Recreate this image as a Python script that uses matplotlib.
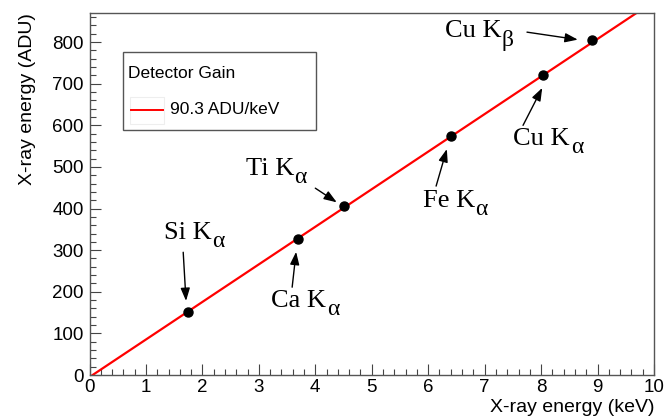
import matplotlib
matplotlib.use("Agg")
import matplotlib.pyplot as plt
import numpy as np
from matplotlib.ticker import MultipleLocator
from matplotlib.patches import Rectangle
from matplotlib.lines import Line2D

# Data
lines_names = ["Si", "Ca", "Ti", "Fe", "Cu", "Cu"]
greek = ["α", "α", "α", "α", "α", "β"]
energy_kev = [1.74, 3.69, 4.51, 6.40, 8.04, 8.90]
energy_adu = [152, 327, 405, 575, 722, 805]
gain = 90.3
offset = -5.0

# annotation layout (data coords): text position, arrow tail, arrow head
text_pos = [(1.885, 343), (3.85, 180), (3.34, 497), (6.51, 420), (8.16, 569), (6.94, 828)]
arrow_tail = [(1.66, 295), (3.59, 211), (4.00, 449), (6.14, 454), (7.68, 600), (7.75, 824)]
arrow_head = [(1.71, 178), (3.66, 296), (4.38, 415), (6.33, 543), (8.02, 690), (8.65, 806)]

W, H = 666, 418
fig = plt.figure(figsize=(W/100, H/100), dpi=100)
ax = fig.add_axes([89.5/W, (H-375)/H, (654-89.5)/W, (375-13)/H])
ax.set_xlim(0, 10)
ax.set_ylim(0, 870)

# fit line
x0 = -offset/gain
x1 = (870 - offset)/gain
xs = np.array([x0, x1])
ax.plot(xs, gain*xs + offset, color='red', lw=1.6, zorder=2, clip_on=True)
ax.plot(energy_kev, energy_adu, 'o', color='black', ms=6.5, zorder=3)

serif = ['Liberation Serif', 'DejaVu Serif']
for name, g, tp, at, ah in zip(lines_names, greek, text_pos, arrow_tail, arrow_head):
    t = ax.annotate(f"{name} K", xy=tp, xytext=(-6, -0.5), textcoords='offset points',
                    family=serif, fontsize=19, ha='center', va='center', zorder=4)
    ax.annotate(g, xy=(1, 0), xycoords=t, xytext=(0.5, 1.5), textcoords='offset points',
                family=serif, fontsize=17, ha='left', va='center', zorder=4)
    ax.annotate('', xy=ah, xytext=at,
                arrowprops=dict(arrowstyle='-|>,head_length=0.55,head_width=0.2', color='black', lw=1.0,
                                mutation_scale=14, shrinkA=0, shrinkB=0))

sans = ['Liberation Sans', 'DejaVu Sans']
ax.xaxis.set_major_locator(MultipleLocator(1))
ax.xaxis.set_minor_locator(MultipleLocator(0.2))
ax.yaxis.set_major_locator(MultipleLocator(100))
ax.yaxis.set_minor_locator(MultipleLocator(20))
ax.tick_params(which='both', direction='in', top=False, right=False, color='#444444')
ax.tick_params(which='major', length=8, width=0.8, labelsize=13.5)
ax.tick_params(which='minor', length=4, width=0.8)
ax.tick_params(axis='x', pad=3)
ax.tick_params(axis='y', pad=4)
for lab in ax.get_xticklabels() + ax.get_yticklabels():
    lab.set_family(sans)
for sp in ax.spines.values():
    sp.set_color('#555555')
    sp.set_linewidth(1.0)

ax.set_xlabel("X-ray energy (keV)", family=sans, fontsize=14, loc='right', labelpad=2)
ax.set_ylabel("X-ray energy (ADU)", family=sans, fontsize=14, loc='top', labelpad=12)

# legend box (figure pixel coordinates)
def fx(px):
    return px / W
def fy(py):
    return (H - py) / H
fig.patches.append(Rectangle((fx(123), fy(130)), fx(316)-fx(123), fy(52)-fy(130),
                             transform=fig.transFigure, fill=True, facecolor='white',
                             edgecolor='#555555', lw=1.0, zorder=5))
fig.patches.append(Rectangle((fx(130), fy(124)), fx(164)-fx(130), fy(97)-fy(124),
                             transform=fig.transFigure, fill=False,
                             edgecolor='#eeeeee', lw=0.8, zorder=6))
fig.add_artist(Line2D([fx(131), fx(163)], [fy(110), fy(110)], color='red', lw=1.4,
                      transform=fig.transFigure, zorder=7))
fig.text(fx(128), fy(73), "Detector Gain", family=sans, fontsize=12.5, ha='left', va='center', zorder=7)
fig.text(fx(170), fy(110), f"{gain:.1f} ADU/keV", family=sans, fontsize=12.5, ha='left', va='center', zorder=7)

fig.savefig("out.png", dpi=100)
